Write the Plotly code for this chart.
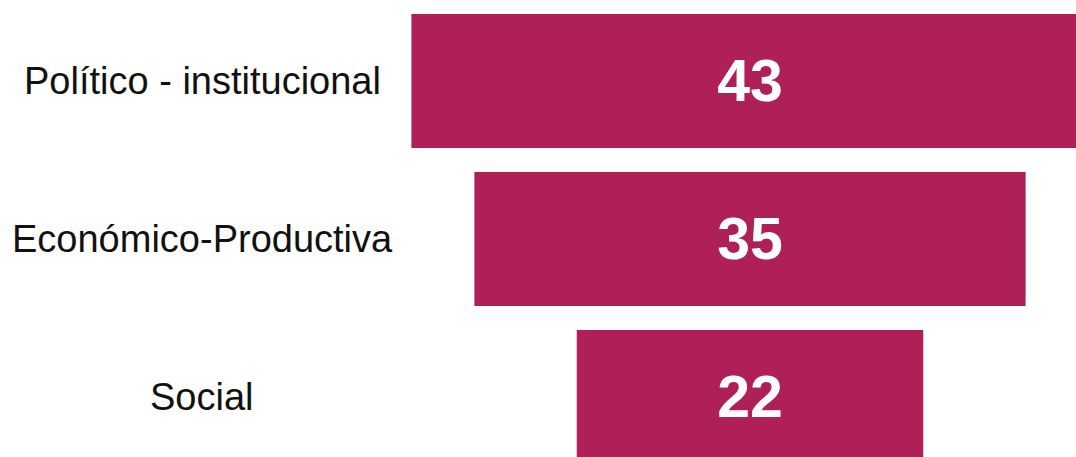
import plotly.graph_objects as go

categories = ["Político - institucional", "Económico-Productiva", "Social"]
values = [43, 35, 22]

BAR_COLOR = "#AF2059"
W, H = 1076, 457
k = 15.75      # px per unit
cx = 750       # px of funnel centre
row0 = 81      # px centre of first row
step = 158     # px between rows

fig = go.Figure(go.Funnel(
    y=categories,
    x=values,
    orientation="h",
    marker=dict(color=BAR_COLOR, line=dict(width=0)),
    connector=dict(visible=False),
    textinfo="value",
    textposition="inside",
    insidetextanchor="middle",
    textfont=dict(family="Liberation Sans, Arial, sans-serif", size=59, color="white", weight="bold"),
    constraintext="none",
    hoverinfo="skip",
))

fig.update_layout(
    width=W, height=H,
    margin=dict(l=0, r=0, t=0, b=0),
    paper_bgcolor="white",
    plot_bgcolor="white",
    funnelgap=0.152,
    showlegend=False,
    xaxis=dict(range=[-cx / k, (W - cx) / k], visible=False, fixedrange=True),
    yaxis=dict(range=[(H - row0) / step, -row0 / step], visible=False,
               categoryorder="array", categoryarray=categories),
)

for c in categories:
    fig.add_annotation(
        x=202 / W, xref="paper", y=c, yref="y",
        text=c, showarrow=False, xanchor="center", yanchor="middle",
        font=dict(family="Liberation Sans, Arial, sans-serif", size=38, color="#111111"),
    )

fig.write_html("out.html")
